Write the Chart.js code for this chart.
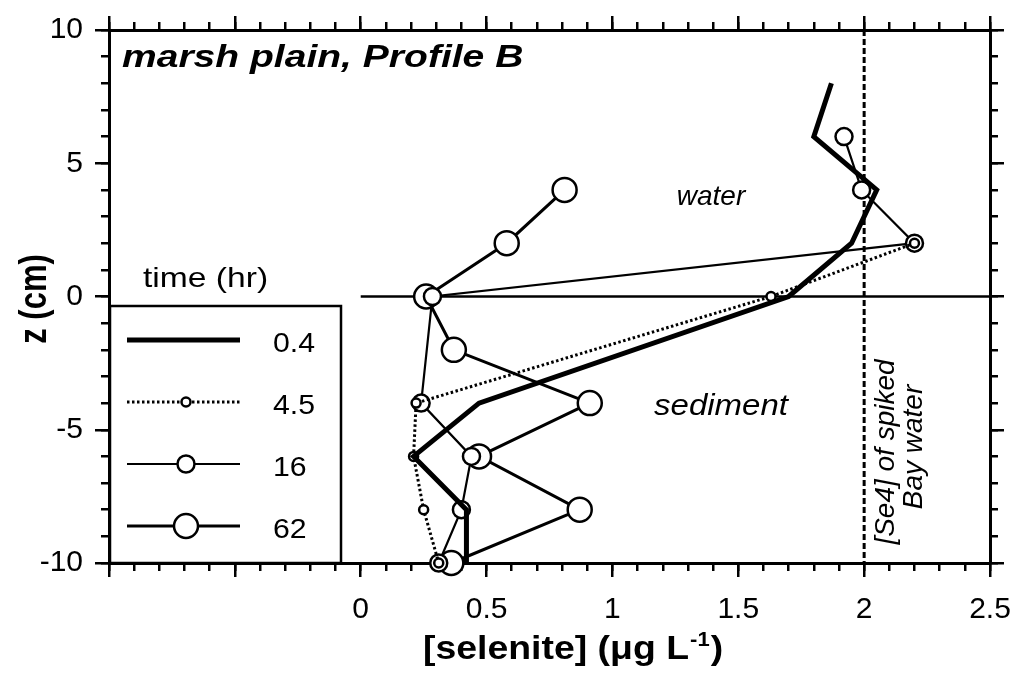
<!DOCTYPE html>
<html>
<head>
<meta charset="utf-8">
<script src="https://cdn.jsdelivr.net/npm/chart.js@4.4.1/dist/chart.umd.min.js"></script>
<style>
  html, body { margin: 0; padding: 0; background: #fff; }
  canvas { display: block; }
</style>
</head>
<body>
<canvas id="profil-b" width="1014" height="673"></canvas>
<script>
// selenite in pore water, marsh plain profile B, four incubation times
var timeLabels = ["0.4", "4.5", "16", "62"];

var z04 = [8, 6, 4, 2, 0, -4, -6, -8, -10];
var se04 = [1.87, 1.80, 2.05, 1.95, 1.70, 0.47, 0.21, 0.42, 0.42];

var z45 = [2, 0, -4, -6, -8, -10];
var se45 = [2.20, 1.63, 0.22, 0.21, 0.25, 0.31];

var z16 = [6, 4, 2, 0, -4, -6, -8, -10];
var se16 = [1.92, 1.99, 2.20, 0.285, 0.24, 0.44, 0.40, 0.31];

var z62 = [4, 2, 0, -2, -4, -6, -8, -10];
var se62 = [0.81, 0.58, 0.26, 0.37, 0.91, 0.47, 0.87, 0.36];

var spikedSe4 = 2.0;
var xTickLabels = ["0", "0.5", "1", "1.5", "2", "2.5"];
var zTickLabels = ["10", "5", "0", "-5", "-10"];

var FONT = "'Liberation Sans', Arial, Helvetica, sans-serif";

function pts(xs, zs) {
    return xs.map(function(x, i) { return { x: x, y: zs[i] }; });
}

// axes take no room; the frame is placed by layout padding
function flatten(scale) {
    if (scale.isHorizontal()) scale.height = 0; else scale.width = 0;
    scale.paddingLeft = scale.paddingRight = scale.paddingTop = scale.paddingBottom = 0;
}

function axis(pos, min, max, step, len, major, labels) {
    var horiz = (pos == 'top' || pos == 'bottom');
    return {
        type: 'linear',
        axis: horiz ? 'x' : 'y',
        position: pos,
        min: min,
        max: max,
        afterFit: flatten,
        border: { display: major, width: 3, color: '#000' },
        grid: {
            drawOnChartArea: false,
            drawTicks: true,
            tickLength: len,
            tickWidth: 2.5,
            lineWidth: 2.5,
            tickColor: '#000',
            color: '#000'
        },
        ticks: {
            display: !!labels,
            stepSize: step,
            autoSkip: false,
            padding: horiz ? 15 : 12,
            color: '#000',
            font: { family: FONT, size: 30 },
            callback: function(v) {
                var s = String(v);
                return labels && labels.indexOf(s) >= 0 ? s : '';
            }
        }
    };
}

function text(ctx, str, x, y, font, o) {
    o = o || {};
    ctx.save();
    ctx.translate(x, y);
    ctx.scale(o.sx || 1, 1);
    if (o.rot) ctx.rotate(o.rot);
    ctx.font = font;
    ctx.fillStyle = '#000';
    ctx.textAlign = o.align || 'left';
    ctx.textBaseline = 'alphabetic';
    ctx.fillText(str, 0, 0);
    ctx.restore();
}

var extras = {
    id: 'extras',
    // give the zero-size axes their outer room back so tick labels are not clipped
    afterLayout: function(chart) {
        Object.keys(chart.scales).forEach(function(id) {
            var s = chart.scales[id], p = s.options.position;
            if (p == 'left') s.left = 0;
            else if (p == 'right') s.right = chart.width;
            else if (p == 'bottom') s.bottom = chart.height;
            else if (p == 'top') s.top = 0;
        });
    },
    beforeDatasetsDraw: function(chart) {
        var ctx = chart.ctx, sx = chart.scales.x, sy = chart.scales.y;
        ctx.save();
        ctx.strokeStyle = '#000';
        ctx.lineWidth = 2.5;
        // sediment-water interface
        ctx.beginPath();
        ctx.moveTo(sx.getPixelForValue(0), sy.getPixelForValue(0));
        ctx.lineTo(sx.right, sy.getPixelForValue(0));
        ctx.stroke();
        // spiked Bay water level
        var px = sx.getPixelForValue(spikedSe4);
        ctx.lineWidth = 3;
        ctx.setLineDash([6, 3]);
        ctx.beginPath();
        ctx.moveTo(px, sy.top);
        ctx.lineTo(px, sy.bottom);
        ctx.stroke();
        ctx.restore();
    },
    afterDatasetsDraw: function(chart) {
        var ctx = chart.ctx, area = chart.chartArea;

        text(ctx, 'marsh plain, Profile B', 122, 67, 'italic bold 32px ' + FONT, { sx: 1.22 });
        text(ctx, 'water', 711, 205, 'italic 28px ' + FONT, { align: 'center' });
        text(ctx, 'sediment', 721, 415, 'italic 30px ' + FONT, { align: 'center', sx: 1.1 });
        text(ctx, '[Se4] of spiked', 894, 452, 'italic 28px ' + FONT, { align: 'center', rot: -Math.PI / 2 });
        text(ctx, 'Bay water', 922, 447, 'italic 28px ' + FONT, { align: 'center', rot: -Math.PI / 2 });

        // legend box
        var left = area.left + 1, top = 306, right = 341, bottom = area.bottom;
        ctx.save();
        ctx.fillStyle = '#fff';
        ctx.fillRect(left, top, right - left, bottom - top);
        ctx.strokeStyle = '#000';
        ctx.lineWidth = 2.5;
        ctx.strokeRect(left, top, right - left, bottom - top);
        ctx.restore();
        text(ctx, 'time (hr)', 143, 287, '28px ' + FONT, { sx: 1.2 });

        chart.data.datasets.forEach(function(ds, i) {
            var y = 340 + i * 62;
            ctx.save();
            ctx.strokeStyle = '#000';
            ctx.lineWidth = ds.borderWidth;
            ctx.setLineDash(ds.borderDash || []);
            ctx.beginPath();
            ctx.moveTo(127, y);
            ctx.lineTo(240, y);
            ctx.stroke();
            if (ds.pointRadius) {
                ctx.setLineDash([]);
                ctx.lineWidth = ds.pointBorderWidth;
                ctx.fillStyle = '#fff';
                ctx.beginPath();
                ctx.arc(186, y, ds.pointRadius, 0, Math.PI * 2);
                ctx.fill();
                ctx.stroke();
            }
            ctx.restore();
            text(ctx, ds.label, 273, y + 12, '28px ' + FONT, { sx: 1.08 });
        });

        // axis titles
        ctx.save();
        ctx.translate(423, 659);
        ctx.scale(1.1, 1);
        ctx.font = 'bold 34px ' + FONT;
        ctx.fillStyle = '#000';
        ctx.textBaseline = 'alphabetic';
        var tx = 0;
        var a = '[selenite] (\u03bcg L';
        ctx.fillText(a, tx, 0);
        tx += ctx.measureText(a).width + 1;
        ctx.font = 'bold 20px ' + FONT;
        ctx.fillText('-1', tx, -13);
        tx += ctx.measureText('-1').width + 1;
        ctx.font = 'bold 34px ' + FONT;
        ctx.fillText(')', tx, 0);
        ctx.restore();

        ctx.save();
        ctx.translate(46, 299);
        ctx.scale(1.25, 1);
        ctx.rotate(-Math.PI / 2);
        ctx.font = 'bold 31px ' + FONT;
        ctx.fillStyle = '#000';
        ctx.textAlign = 'center';
        ctx.fillText('z (cm)', 0, 0);
        ctx.restore();
    }
};

var ctx = document.getElementById('profil-b').getContext('2d');
var chart = new Chart(ctx, {
    type: 'scatter',
    data: {
        datasets: [{
            label: timeLabels[0],
            data: pts(se04, z04),
            showLine: true,
            borderColor: '#000',
            borderWidth: 5,
            borderJoinStyle: 'miter',
            pointRadius: 0,
            clip: false
        }, {
            label: timeLabels[1],
            data: pts(se45, z45),
            showLine: true,
            borderColor: '#000',
            borderWidth: 3,
            borderDash: [2.5, 2.5],
            pointRadius: 4.5,
            pointBorderWidth: 2.5,
            pointBorderColor: '#000',
            pointBackgroundColor: '#fff',
            clip: false
        }, {
            label: timeLabels[2],
            data: pts(se16, z16),
            showLine: true,
            borderColor: '#000',
            borderWidth: 2.2,
            pointRadius: 8.5,
            pointBorderWidth: 2.5,
            pointBorderColor: '#000',
            pointBackgroundColor: '#fff',
            clip: false
        }, {
            label: timeLabels[3],
            data: pts(se62, z62),
            showLine: true,
            borderColor: '#000',
            borderWidth: 3,
            pointRadius: 12,
            pointBorderWidth: 2.5,
            pointBorderColor: '#000',
            pointBackgroundColor: '#fff',
            clip: false
        }]
    },
    options: {
        responsive: false,
        animation: false,
        events: [],
        layout: { padding: { left: 109, right: 24, top: 30, bottom: 110 } },
        plugins: {
            legend: { display: false },
            tooltip: { enabled: false }
        },
        scales: {
            x: axis('bottom', -1, 2.5, 0.5, 14, true, xTickLabels),
            xMinor: axis('bottom', -1, 2.5, 0.1, 8, false),
            xTop: axis('top', -1, 2.5, 0.5, 14, true),
            xTopMinor: axis('top', -1, 2.5, 0.1, 8, false),
            y: axis('left', -10, 10, 5, 14, true, zTickLabels),
            yMinor: axis('left', -10, 10, 1, 8, false),
            yRight: axis('right', -10, 10, 5, 14, true),
            yRightMinor: axis('right', -10, 10, 1, 8, false)
        }
    },
    plugins: [extras]
});
</script>
</body>
</html>
